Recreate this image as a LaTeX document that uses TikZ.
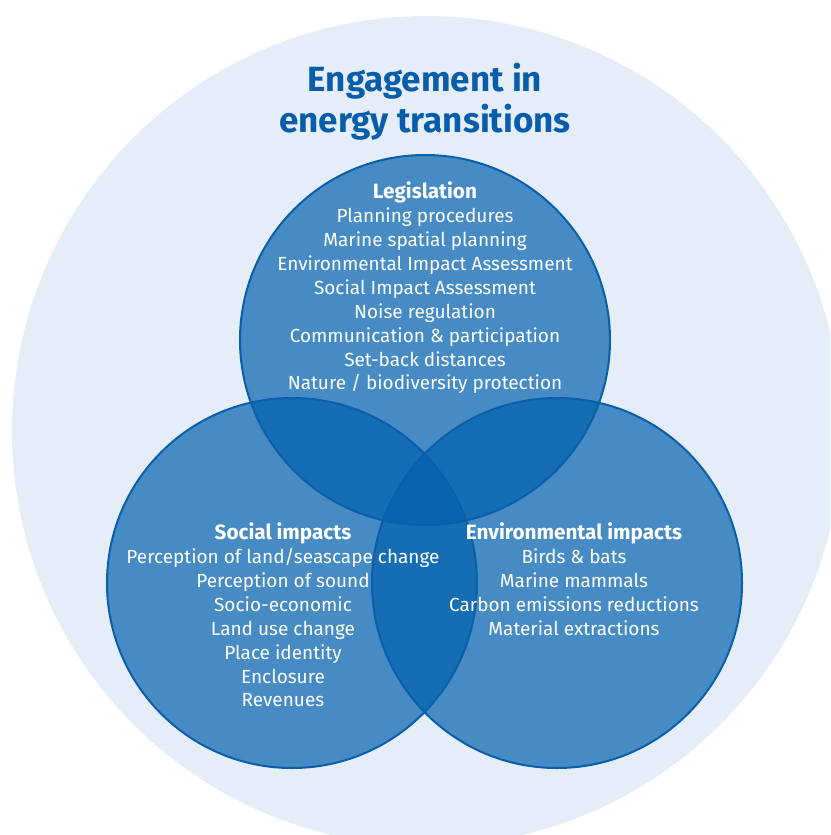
\documentclass[tikz,border=0pt]{standalone}
\usepackage{fontspec}
\setmainfont{Fira Sans}
\definecolor{bgcircle}{RGB}{229,238,248}
\definecolor{venn}{RGB}{0,96,174}
\definecolor{vennline}{RGB}{10,95,172}
\definecolor{titleblue}{RGB}{8,93,170}
\newcommand{\vhead}[1]{{\fontsize{20.7}{23.9}\selectfont\bfseries #1}}
\tikzset{
  vennfill/.style={fill=venn, fill opacity=0.69, draw=none},
  vennedge/.style={draw=vennline, line width=2pt},
  body/.style={text=white, align=center, font=\fontsize{19}{23.9}\selectfont, inner sep=0pt},
  heading/.style={text=titleblue, align=center, font=\fontsize{35}{41}\selectfont\bfseries, inner sep=0pt}
}
\begin{document}
\begin{tikzpicture}[x=1pt,y=-1pt]
\useasboundingbox (0,0) rectangle (830,835);
\begin{scope}
\clip (0,0) rectangle (830,835);
\fill[bgcircle] (427,431) circle (415pt);
\end{scope}
\coordinate (leg) at (425,340);
\coordinate (soc) at (292,583);
\coordinate (env) at (557,583);
\fill[vennfill] (leg) circle (185pt);
\fill[vennfill] (soc) circle (185pt);
\fill[vennfill] (env) circle (185pt);
\draw[vennedge] (leg) circle (185pt);
\draw[vennedge] (soc) circle (185pt);
\draw[vennedge] (env) circle (185pt);
\node[heading] (title) at (425,102) {Engagement in\\energy transitions};
\node[body] (legtext) at (425,288) {\vhead{Legislation}\\Planning procedures\\Marine spatial planning\\Environmental Impact Assessment\\Social Impact Assessment\\Noise regulation\\Communication \& participation\\Set-back distances\\Nature / biodiversity protection};
\node[body] (soctext) at (283,615) {\vhead{Social impacts}\\Perception of land/seascape change\\Perception of sound\\Socio-economic\\Land use change\\Place identity\\Enclosure\\Revenues};
\node[body] (envtext) at (574,579) {\vhead{Environmental impacts}\\Birds \& bats\\Marine mammals\\Carbon emissions reductions\\Material extractions};
\end{tikzpicture}
\end{document}
